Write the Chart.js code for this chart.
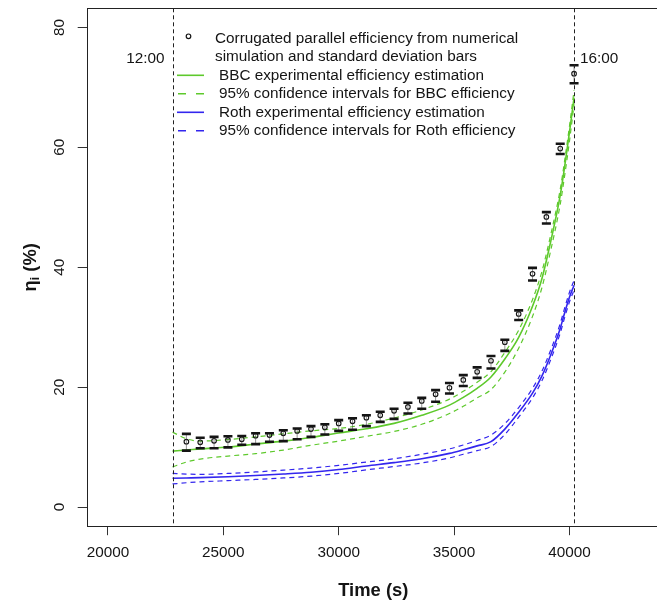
<!DOCTYPE html>
<html>
<head>
<meta charset="utf-8">
<script src="https://cdn.jsdelivr.net/npm/chart.js@4.4.1/dist/chart.umd.min.js"></script>
<style>
  html, body { margin: 0; padding: 0; overflow: hidden; background: #fff; }
  canvas { display: block; }
</style>
</head>
<body>
<canvas id="canvas" width="665" height="603"></canvas>
<script>
// axis ticks
const xTicks = [20000, 25000, 30000, 35000, 40000];
const yTicks = [0, 20, 40, 60, 80];

// reference times (12:00 and 16:00)
const markTimes = [22800, 40200];
const markLabels = ["12:00", "16:00"];

// numerical simulation: mean and standard deviation bars
const simTimes = [23400, 24000, 24600, 25200, 25800, 26400, 27000, 27600, 28200, 28800,
  29400, 30000, 30600, 31200, 31800, 32400, 33000, 33600, 34200, 34800,
  35400, 36000, 36600, 37200, 37800, 38400, 39000, 39600, 40200];
const simMean = [10.9, 10.8, 11.05, 11.2, 11.3, 11.9, 12.0, 12.3, 12.7, 13.0,
  13.3, 13.95, 14.3, 14.9, 15.3, 16.05, 16.7, 17.7, 18.8, 19.9,
  21.2, 22.55, 24.4, 27.5, 32.2, 38.9, 48.4, 59.8, 72.3];
const simUpper = [12.2, 11.55, 11.7, 11.8, 11.85, 12.3, 12.3, 12.8, 13.1, 13.5,
  13.8, 14.5, 14.8, 15.3, 15.9, 16.4, 17.4, 18.2, 19.5, 20.7,
  22.0, 23.3, 25.2, 27.9, 32.8, 39.9, 49.2, 60.6, 73.7];
const simLower = [9.4, 9.8, 9.8, 9.95, 10.4, 10.5, 10.9, 11.0, 11.3, 11.7,
  12.1, 12.7, 12.9, 13.5, 14.2, 14.7, 15.6, 16.4, 17.55, 18.95,
  20.2, 21.55, 23.1, 26.05, 31.2, 37.8, 47.3, 58.9, 70.7];

// experimental estimations
const fitTimes = [22800, 23400, 24000, 25200, 26400, 27600, 28800, 30000, 31200, 32400,
  33600, 34800, 35400, 36000, 36600, 37200, 37800, 38400, 38800, 39200,
  39600, 39800, 40000, 40200];
const bbcFit = [9.33, 9.5, 9.7, 10.0, 10.5, 11.0, 11.6, 12.35, 13.05, 13.95,
  15.3, 17.0, 18.3, 19.8, 21.7, 24.7, 28.3, 33.5, 38.0, 44.5,
  52.0, 57.0, 62.5, 68.3];
const bbcHigh = [12.5, 11.4, 11.0, 11.25, 11.7, 12.2, 12.7, 13.1, 13.8, 14.85,
  16.2, 18.0, 19.3, 20.8, 22.6, 25.8, 29.5, 34.6, 39.2, 45.6,
  53.0, 58.0, 63.5, 69.5];
const bbcLow = [6.7, 7.5, 8.0, 8.5, 8.9, 9.5, 10.3, 11.0, 11.8, 12.6,
  13.8, 15.6, 16.8, 18.2, 19.6, 22.5, 26.5, 31.8, 36.5, 43.0,
  50.5, 55.5, 61.0, 67.2];
const rothFit = [4.8, 4.85, 4.9, 5.05, 5.25, 5.5, 5.8, 6.25, 6.85, 7.4,
  8.05, 8.95, 9.55, 10.2, 10.9, 13.0, 15.8, 19.0, 21.8, 25.5,
  29.8, 32.5, 35.0, 37.0];
const rothHigh = [5.6, 5.5, 5.45, 5.6, 5.85, 6.15, 6.5, 6.95, 7.5, 8.05,
  8.8, 9.7, 10.35, 11.1, 12.0, 13.9, 16.6, 19.8, 22.6, 26.3,
  30.6, 33.3, 35.8, 37.8];
const rothLow = [3.85, 4.05, 4.2, 4.4, 4.6, 4.85, 5.15, 5.6, 6.2, 6.75,
  7.35, 8.2, 8.8, 9.4, 10.1, 12.1, 15.0, 18.2, 21.0, 24.7,
  29.0, 31.7, 34.2, 36.2];

const legendLabels = [
  ["Corrugated parallel efficiency from numerical", "simulation and standard deviation bars"],
  ["BBC experimental efficiency estimation"],
  ["95% confidence intervals for BBC efficiency"],
  ["Roth experimental efficiency estimation"],
  ["95% confidence intervals for Roth efficiency"]
];

const GREEN = "#5ec92c";
const BLUE = "#3326ee";
const INK = "#141414";
const FONT = "'Liberation Sans', Arial, sans-serif";

const pts = (xs, ys) => xs.map((x, i) => ({ x: x, y: ys[i] }));

const lineSet = (label, ys, color, dashed) => ({
  label: label,
  data: pts(fitTimes, ys),
  showLine: true,
  borderColor: color,
  borderWidth: dashed ? 1.2 : 1.6,
  borderDash: dashed ? [5, 4] : [],
  pointRadius: 0,
  cubicInterpolationMode: "monotone",
  fill: false
});

const decor = {
  id: "decor",
  afterDatasetsDraw(chart) {
    const { ctx, scales: { x, y } } = chart;
    ctx.save();
    // standard deviation bars
    simTimes.forEach((t, i) => {
      const px = x.getPixelForValue(t);
      const top = y.getPixelForValue(simUpper[i]);
      const bot = y.getPixelForValue(simLower[i]);
      ctx.strokeStyle = "rgba(60,60,60,0.55)";
      ctx.lineWidth = 1;
      ctx.beginPath();
      ctx.moveTo(px, top);
      ctx.lineTo(px, bot);
      ctx.stroke();
      ctx.strokeStyle = INK;
      ctx.lineWidth = 2.6;
      ctx.beginPath();
      ctx.moveTo(px - 4.5, top); ctx.lineTo(px + 4.5, top);
      ctx.moveTo(px - 4.5, bot); ctx.lineTo(px + 4.5, bot);
      ctx.stroke();
    });
    ctx.restore();
  },
  afterDraw(chart) {
    const { ctx, chartArea: a, scales: { x, y } } = chart;
    ctx.save();

    // box
    ctx.strokeStyle = "#222";
    ctx.lineWidth = 1;
    ctx.strokeRect(Math.round(a.left) + 0.5, Math.round(a.top) + 0.5,
      Math.round(a.right - a.left), Math.round(a.bottom - a.top));

    // 12:00 / 16:00 lines
    ctx.setLineDash([4, 3]);
    markTimes.forEach((t) => {
      const px = Math.round(x.getPixelForValue(t)) + 0.5;
      ctx.beginPath();
      ctx.moveTo(px, a.top);
      ctx.lineTo(px, a.bottom);
      ctx.stroke();
    });
    ctx.setLineDash([]);

    ctx.fillStyle = INK;
    ctx.font = "15.3px " + FONT;
    ctx.textBaseline = "middle";
    const p0 = x.getPixelForValue(markTimes[0]);
    const p1 = x.getPixelForValue(markTimes[1]);
    ctx.textAlign = "right";
    ctx.fillText(markLabels[0], p0 - 8, 59);
    ctx.textAlign = "left";
    ctx.fillText(markLabels[1], p1 + 6, 59);

    // y tick labels (rotated, as in R)
    ctx.textAlign = "center";
    yTicks.forEach((v) => {
      ctx.save();
      ctx.translate(60, y.getPixelForValue(v));
      ctx.rotate(-Math.PI / 2);
      ctx.fillText(String(v), 0, 0);
      ctx.restore();
    });

    // y axis title: eta_i (%)
    ctx.save();
    ctx.translate(31, (a.top + a.bottom) / 2);
    ctx.rotate(-Math.PI / 2);
    const big = "bold 18.4px " + FONT;
    const small = "bold 12.5px " + FONT;
    ctx.font = big;
    const w1 = ctx.measureText("\u03B7").width;
    const w3 = ctx.measureText(" (%)").width;
    ctx.font = small;
    const w2 = ctx.measureText("i").width;
    let cx = -(w1 + w2 + w3) / 2;
    ctx.textAlign = "left";
    ctx.font = big;
    ctx.fillText("\u03B7", cx, 0);
    cx += w1;
    ctx.font = small;
    ctx.fillText("i", cx, 5);
    cx += w2;
    ctx.font = big;
    ctx.fillText(" (%)", cx, 0);
    ctx.restore();

    // legend
    ctx.font = "15.3px " + FONT;
    ctx.textAlign = "left";
    const rowY = (r) => 38.3 + 18.5 * r;
    ctx.beginPath();
    ctx.strokeStyle = INK;
    ctx.lineWidth = 1.2;
    ctx.arc(188.5, rowY(0) - 2, 2.3, 0, Math.PI * 2);
    ctx.stroke();
    ctx.fillText(legendLabels[0][0], 215, rowY(0));
    ctx.fillText(legendLabels[0][1], 215, rowY(1));
    const keys = [[GREEN, false], [GREEN, true], [BLUE, false], [BLUE, true]];
    keys.forEach(([c, dashed], i) => {
      const ry = rowY(i + 2);
      ctx.strokeStyle = c;
      ctx.lineWidth = 1.6;
      ctx.setLineDash(dashed ? [8, 10] : []);
      ctx.lineDashOffset = dashed ? -1 : 0;
      ctx.beginPath();
      ctx.moveTo(177, ry);
      ctx.lineTo(204, ry);
      ctx.stroke();
      ctx.setLineDash([]);
      ctx.fillText(legendLabels[i + 1][0], 219, ry);
    });

    ctx.restore();
  }
};

const ctx = document.getElementById("canvas").getContext("2d");

new Chart(ctx, {
  type: "scatter",
  data: {
    datasets: [
      {
        label: "simulation",
        data: pts(simTimes, simMean),
        showLine: false,
        pointRadius: 2.3,
        pointBorderWidth: 1.1,
        pointBorderColor: INK,
        pointBackgroundColor: "rgba(255,255,255,0)"
      },
      lineSet("BBC", bbcFit, GREEN, false),
      lineSet("BBC high", bbcHigh, GREEN, true),
      lineSet("BBC low", bbcLow, GREEN, true),
      lineSet("Roth", rothFit, BLUE, false),
      lineSet("Roth high", rothHigh, BLUE, true),
      lineSet("Roth low", rothLow, BLUE, true)
    ]
  },
  options: {
    responsive: false,
    animation: false,
    devicePixelRatio: 1,
    events: [],
    layout: { padding: { left: 0, top: 8.3, right: 4.2, bottom: 0 } },
    plugins: { legend: { display: false }, tooltip: { enabled: false } },
    scales: {
      x: {
        type: "linear",
        min: 19080,
        max: 43920,
        afterBuildTicks: (s) => { s.ticks = xTicks.map((v) => ({ value: v })); },
        afterFit: (s) => { s.height = 76.8; },
        border: { display: false },
        grid: { drawOnChartArea: false, drawTicks: true, tickLength: 9, tickColor: "#333", tickWidth: 1 },
        ticks: {
          color: INK,
          font: { family: FONT, size: 15.3 },
          padding: 8,
          maxRotation: 0,
          autoSkip: false,
          callback: (v) => String(v)
        },
        title: { display: true, text: "Time (s)", color: INK, font: { family: FONT, size: 18.4, weight: "bold" }, padding: { top: 0, bottom: 1 } }
      },
      y: {
        min: -3.2,
        max: 83.2,
        afterBuildTicks: (s) => { s.ticks = yTicks.map((v) => ({ value: v })); },
        afterFit: (s) => { s.width = 86.7; },
        border: { display: false },
        grid: { drawOnChartArea: false, drawTicks: true, tickLength: 9, tickColor: "#333", tickWidth: 1 },
        ticks: { display: false }
      }
    }
  },
  plugins: [decor]
});
</script>
</body>
</html>
